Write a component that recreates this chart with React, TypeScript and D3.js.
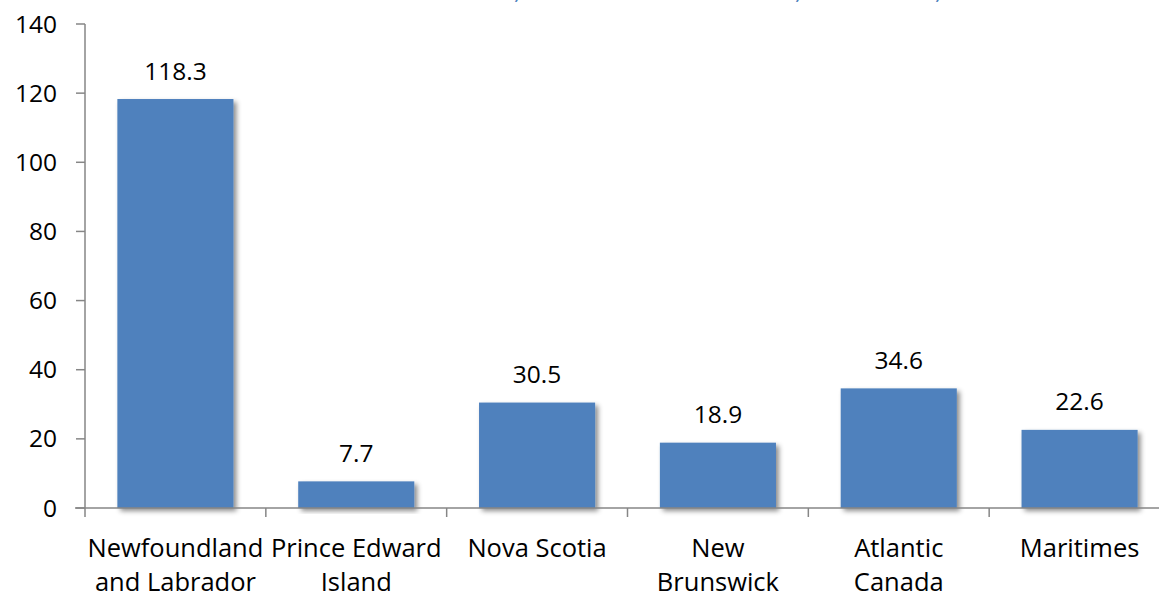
import React from "react";
import * as d3 from "d3";

const categories: string[][] = [
  ["Newfoundland", "and Labrador"],
  ["Prince Edward", "Island"],
  ["Nova Scotia"],
  ["New", "Brunswick"],
  ["Atlantic", "Canada"],
  ["Maritimes"],
];
const values: number[] = [118.3, 7.7, 30.5, 18.9, 34.6, 22.6];
const valueLabels: string[] = ["118.3", "7.7", "30.5", "18.9", "34.6", "22.6"];
const yTicks: number[] = [0, 20, 40, 60, 80, 100, 120, 140];
const titleCommaX: number[] = [516, 797, 937];

const W = 1159;
const H = 592;
const left = 85;
const plotRight = 1170;
const top = 24;
const bottom = 508;
const font = "'Open Sans', sans-serif";
const fs = 24.5;

export default function App() {
  const x = d3
    .scaleBand<number>()
    .domain(values.map((_, i) => i))
    .range([left, plotRight])
    .paddingInner(0.358)
    .paddingOuter(0.179);
  const band = d3.scaleBand<number>().domain(values.map((_, i) => i)).range([left, plotRight]);
  const y = d3.scaleLinear().domain([0, 140]).range([bottom, top]);
  const axisColor = "#868686";

  return (
    <svg width={W} height={H} style={{ position: "absolute", left: 0, top: 0, background: "#fff" }}>
      <defs>
        <filter id="sh" x="-10%" y="-10%" width="130%" height="130%">
          <feDropShadow dx="3" dy="3" stdDeviation="2.5" floodColor="#000" floodOpacity="0.45" />
        </filter>
      </defs>
      {titleCommaX.map((cx, i) => (
        <text key={i} x={cx} y={-1} fontFamily={font} fontStyle="italic" fontSize={24} fill="#4F81BD">
          ,
        </text>
      ))}
      {/* y axis */}
      <line x1={left} x2={left} y1={top} y2={bottom} stroke={axisColor} strokeWidth={1.5} />
      {yTicks.map((t) => (
        <g key={t}>
          <line x1={left - 9} x2={left} y1={y(t)} y2={y(t)} stroke={axisColor} strokeWidth={1.5} />
          <text
            x={57}
            y={y(t)}
            dy="0.35em"
            textAnchor="end"
            fontFamily={font}
            fontSize={fs}
            fill="#000"
          >
            {t}
          </text>
        </g>
      ))}
      {/* bars */}
      {values.map((v, i) => (
        <rect
          key={i}
          x={x(i)}
          y={y(v)}
          width={x.bandwidth()}
          height={bottom - y(v)}
          fill="#4F81BD"
          filter="url(#sh)"
        />
      ))}
      {/* x axis */}
      <line x1={left - 10} x2={plotRight} y1={bottom} y2={bottom} stroke={axisColor} strokeWidth={1.5} />
      {values.map((_, i) => (
        <line
          key={i}
          x1={band(i)!}
          x2={band(i)!}
          y1={bottom}
          y2={bottom + 9}
          stroke={axisColor}
          strokeWidth={1.5}
        />
      ))}
      {/* value labels */}
      {values.map((v, i) => (
        <text
          key={i}
          x={x(i)! + x.bandwidth() / 2}
          y={y(v) - 28}
          dy="0.35em"
          textAnchor="middle"
          fontFamily={font}
          fontSize={fs}
          fill="#000"
        >
          {valueLabels[i]}
        </text>
      ))}
      {/* category labels */}
      {categories.map((lines, i) => (
        <text
          key={i}
          textAnchor="middle"
          fontFamily={font}
          fontSize={25.5}
          fill="#000"
        >
          {lines.map((l, j) => (
            <tspan key={j} x={band(i)! + band.bandwidth() / 2} y={548 + j * 34} dy="0.35em">
              {l}
            </tspan>
          ))}
        </text>
      ))}
    </svg>
  );
}
